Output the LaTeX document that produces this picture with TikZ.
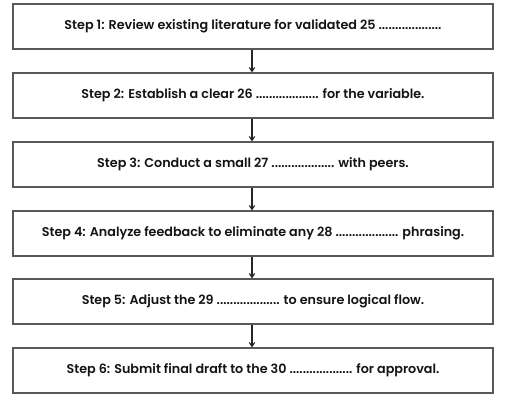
\documentclass[tikz,border=0pt]{standalone}
\usepackage{fontspec}
\setmainfont{Poppins}[BoldFont={Poppins SemiBold}]
\usetikzlibrary{arrows.meta}
\tikzset{
  stepbox/.style={draw=black!65, line width=0.9pt, fill=white, minimum width=360pt, minimum height=33.75pt, inner sep=0pt, font=\fontsize{9.55pt}{11pt}\selectfont\bfseries, text=black!92},
  flowarrow/.style={-{Straight Barb[length=3pt,width=4pt]}, draw=black!85, line width=0.8pt}
}
\begin{document}
\begin{tikzpicture}[x=0.75pt,y=-0.75pt]
\useasboundingbox (0,0) rectangle (509,400);
\node[stepbox] (s1) at (253,26.5) {Step 1: Review existing literature for validated 25 ...................};
\node[stepbox] (s2) at (253,95.5) {Step 2: Establish a clear 26 ................... for the variable.};
\node[stepbox] (s3) at (253,164.5) {Step 3: Conduct a small 27 ................... with peers.};
\node[stepbox] (s4) at (253,233.5) {Step 4: Analyze feedback to eliminate any 28 ................... phrasing.};
\node[stepbox] (s5) at (253,301.5) {Step 5: Adjust the 29 ................... to ensure logical flow.};
\node[stepbox] (s6) at (253,370.5) {Step 6: Submit final draft to the 30 ................... for approval.};
\foreach \a/\b in {s1/s2,s2/s3,s3/s4,s4/s5,s5/s6}
  \draw[flowarrow] (\a.south -| 252,0) -- (\b.north -| 252,0);
\end{tikzpicture}
\end{document}
